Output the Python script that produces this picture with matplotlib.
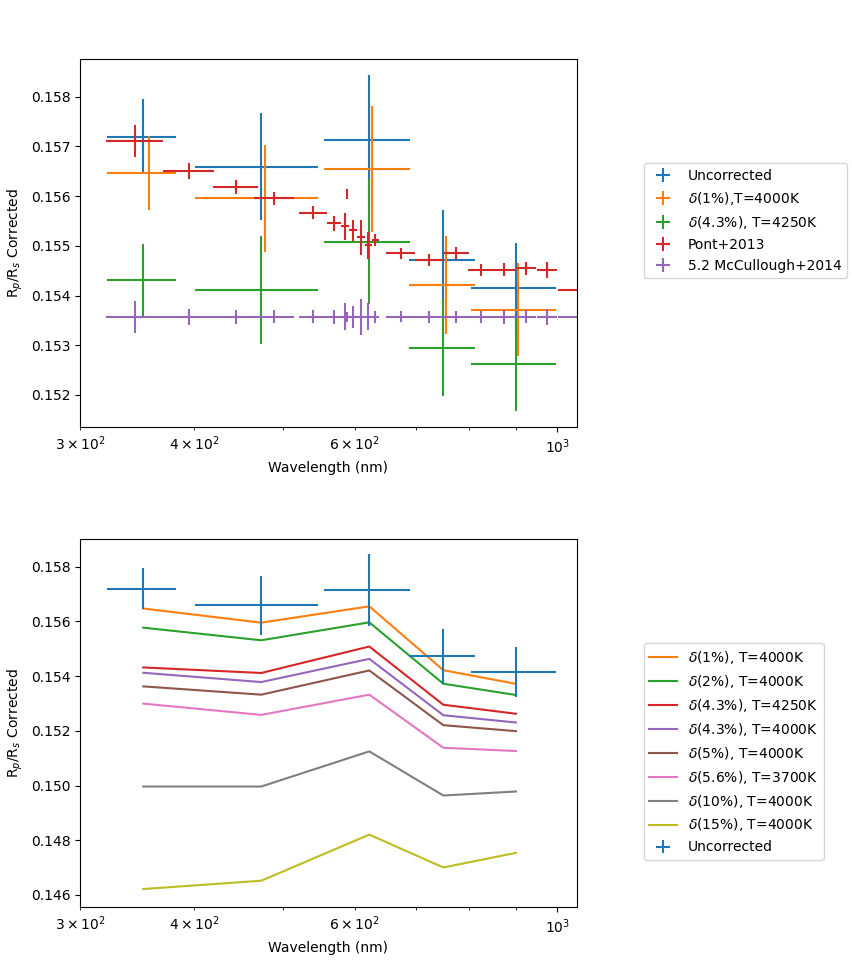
import matplotlib
matplotlib.use("Agg")
import matplotlib.pyplot as plt
import numpy as np

# ---- Uncorrected (HST bins) ----
unc_wl = [351.7, 473.7, 622.2, 750.0, 900.9]
unc_xerr = [30.7, 73.0, 67.5, 61.5, 97.0]
unc_rp = [0.157195, 0.156591, 0.157134, 0.154718, 0.154155]
unc_err = [0.00076, 0.00108, 0.00131, 0.00101, 0.00091]

# ---- delta(1%), T=4000K (top panel, shifted by +5 nm) ----
d1_shift = 5.0
d1_rp = [0.156470, 0.155953, 0.156550, 0.154215, 0.153718]
d1_err = [0.00074, 0.00108, 0.00127, 0.00098, 0.00094]

# ---- delta(4.3%), T=4250K ----
d43_rp = [0.154316, 0.154114, 0.155081, 0.152953, 0.152624]
d43_err = [0.000725, 0.00108, 0.00126, 0.00098, 0.00095]

# ---- Pont+2013 ----
pont_wl = [344.7, 395.0, 444.8, 489.6, 540.2, 569.6, 585.7, 588.1, 597.6,
           609.8, 620.7, 631.7, 674.0, 723.9, 775.0, 825.5, 874.8, 924.7,
           975.1, 1056.0]
pont_xerr = [24.6, 25.0, 25.0, 24.5, 19.3, 10.0, 5.7, 0.5, 6.0,
             6.0, 5.75, 6.0, 24.4, 25.0, 25.0, 27.0, 24.0, 23.0,
             24.5, 55.0]
pont_rp = [0.157114, 0.156510, 0.156188, 0.155960, 0.155665, 0.155450,
           0.155389, 0.156040, 0.155309, 0.155168, 0.155014, 0.155114,
           0.154846, 0.154718, 0.154859, 0.154517, 0.154517, 0.154544,
           0.154517, 0.154114]
pont_err = [0.00032, 0.00016, 0.00014, 0.00013, 0.00013, 0.000145,
            0.00027, 0.000107, 0.00022, 0.00036, 0.00027, 0.00012,
            0.00011, 0.000117, 0.00012, 0.000124, 0.000134, 0.00013,
            0.00016, 0.00015]

# ---- 5.2 McCullough+2014 (flat value on Pont grid) ----
mcc_rp = [0.153571, 0.153571, 0.153571, 0.153571, 0.153571, 0.153571,
          0.153571, 0.153571, 0.153571, 0.153571, 0.153571, 0.153571,
          0.153571, 0.153571, 0.153571, 0.153571, 0.153571, 0.153571,
          0.153571, 0.153571]

# ---- bottom panel corrected curves ----
d2_rp = [0.155770, 0.155309, 0.155964, 0.153721, 0.153309]
d43b_rp = [0.154121, 0.153782, 0.154630, 0.152570, 0.152303]
d5_rp = [0.153624, 0.153321, 0.154206, 0.152206, 0.151988]
d56_rp = [0.152994, 0.152582, 0.153321, 0.151382, 0.151261]
d10_rp = [0.149964, 0.149964, 0.151248, 0.149636, 0.149782]
d15_rp = [0.146218, 0.146521, 0.148206, 0.147006, 0.147539]

fig = plt.figure(figsize=(8.53, 9.6), dpi=100)
ax1 = fig.add_axes([0.0941, 0.5549, 0.5819, 0.3840])
ax2 = fig.add_axes([0.0941, 0.0549, 0.5819, 0.3840])

# top panel
ax1.errorbar(unc_wl, unc_rp, xerr=unc_xerr, yerr=unc_err, fmt='none',
             ecolor='C0', label='Uncorrected')
d1_wl = [w + d1_shift for w in unc_wl]
d1_xerr = [[x + d1_shift for x in unc_xerr], [x - d1_shift for x in unc_xerr]]
ax1.errorbar(d1_wl, d1_rp, xerr=d1_xerr, yerr=d1_err, fmt='none',
             ecolor='C1', label=r'$\delta$(1%),T=4000K')
ax1.errorbar(unc_wl, d43_rp, xerr=unc_xerr, yerr=d43_err, fmt='none',
             ecolor='C2', label=r'$\delta$(4.3%), T=4250K')
ax1.errorbar(pont_wl, pont_rp, xerr=pont_xerr, yerr=pont_err, fmt='none',
             ecolor='C3', label='Pont+2013')
ax1.errorbar(pont_wl, mcc_rp, xerr=pont_xerr, yerr=pont_err, fmt='none',
             ecolor='C4', label='5.2 McCullough+2014')
ax1.set_xscale('log')
ax1.set_xlim(300, 1050)
ax1.set_ylim(0.15135, 0.158764)
ax1.set_xlabel('Wavelength (nm)')
ax1.set_ylabel(r'R$_p$/R$_s$ Corrected')
ax1.legend(loc='upper left', bbox_to_anchor=(1.121, 0.735))

# bottom panel
ax2.plot(unc_wl, d1_rp, color='C1', label=r'$\delta$(1%), T=4000K')
ax2.plot(unc_wl, d2_rp, color='C2', label=r'$\delta$(2%), T=4000K')
ax2.plot(unc_wl, d43_rp, color='C3', label=r'$\delta$(4.3%), T=4250K')
ax2.plot(unc_wl, d43b_rp, color='C4', label=r'$\delta$(4.3%), T=4000K')
ax2.plot(unc_wl, d5_rp, color='C5', label=r'$\delta$(5%), T=4000K')
ax2.plot(unc_wl, d56_rp, color='C6', label=r'$\delta$(5.6%), T=3700K')
ax2.plot(unc_wl, d10_rp, color='C7', label=r'$\delta$(10%), T=4000K')
ax2.plot(unc_wl, d15_rp, color='C8', label=r'$\delta$(15%), T=4000K')
ax2.errorbar(unc_wl, unc_rp, xerr=unc_xerr, yerr=unc_err, fmt='none',
             ecolor='C0', label='Uncorrected')
ax2.set_xscale('log')
ax2.set_xlim(300, 1050)
ax2.set_ylim(0.14555, 0.159023)
ax2.set_xlabel('Wavelength (nm)')
ax2.set_ylabel(r'R$_p$/R$_s$ Corrected')
ax2.legend(loc='upper left', bbox_to_anchor=(1.121, 0.735))

fig.savefig('out.png', dpi=100)
